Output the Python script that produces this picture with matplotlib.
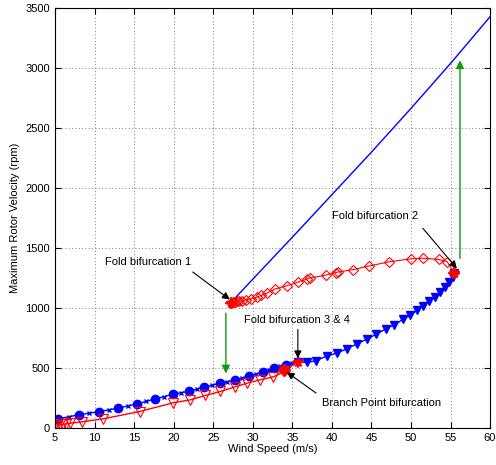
import matplotlib.pyplot as plt
import numpy as np

plt.rcParams['font.family'] = ['Liberation Sans', 'DejaVu Sans']
plt.rcParams['font.size'] = 8

# Upper stable branch (blue line, no markers)
hi_ws = [27.3, 30.0, 35.0, 40.0, 45.0, 50.0, 55.0, 60.0]
hi_rpm = [1050, 1240, 1590, 1945, 2300, 2665, 3040, 3430]

# Lower stable branch: filled circles with crosses in between
lo_ws = [5.4, 6.7, 8.0, 9.3, 10.6, 11.8, 13.0, 14.2, 15.4, 16.5, 17.6, 18.8,
         19.9, 20.9, 21.9, 22.9, 23.8, 24.8, 25.8, 26.8, 27.7, 28.6, 29.5,
         30.4, 31.3, 32.0, 32.7, 33.5, 34.2, 35.0, 35.7]
lo_rpm = [75, 92, 108, 122, 135, 150, 165, 182, 200, 220, 240, 260,
          280, 292, 305, 322, 340, 355, 370, 385, 400, 415, 430,
          448, 465, 482, 500, 512, 525, 538, 550]

# Unstable branch from fold 3/4 up to fold 2 (blue down triangles)
tri_ws = [35.7, 36.9, 38.0, 39.4, 40.7, 41.9, 43.2, 44.4, 45.6, 46.8, 47.9,
          49.0, 49.9, 50.8, 51.5, 52.3, 53.0, 53.7, 54.3, 54.8, 55.3, 55.45]
tri_rpm = [550, 545, 560, 600, 625, 660, 700, 740, 780, 825, 860,
           905, 940, 980, 1015, 1055, 1090, 1130, 1175, 1215, 1260, 1290]

# Unstable branch between fold 2 and fold 1 (red diamonds)
dia_ws = [55.45, 54.6, 53.5, 51.5, 50.0, 47.2, 44.7, 42.7, 40.8, 40.5, 39.3,
          37.2, 36.8, 35.7, 34.3, 32.8, 31.8, 31.1, 30.5, 29.8, 29.2, 28.7,
          28.3, 28.0, 27.7, 27.5, 27.3]
dia_rpm = [1290, 1385, 1405, 1415, 1410, 1385, 1350, 1320, 1300, 1295, 1275,
           1250, 1240, 1215, 1185, 1158, 1125, 1105, 1090, 1078, 1068, 1062,
           1058, 1055, 1052, 1050, 1045]

# Lower unstable branch up to the branch point (red open triangles)
red_ws = [5.0, 5.3, 5.6, 6.0, 6.4, 6.9, 8.4, 11.1, 15.7, 19.9, 22.1, 24.0,
          25.9, 27.8, 29.3, 30.9, 32.6, 34.0]
red_rpm = [20, 25, 28, 30, 33, 38, 50, 75, 136, 208, 233, 270,
           303, 342, 373, 400, 425, 470]

# Bifurcation points
fold_ws = [27.3, 55.45, 35.7]
fold_rpm = [1045, 1290, 550]
bp_ws, bp_rpm = 34.0, 480

fig = plt.figure(figsize=(4.96, 4.65), dpi=100)
ax = fig.add_axes([0.111, 0.080, 0.877, 0.902])

ax.plot(hi_ws, hi_rpm, color='b', lw=1)
ax.plot(lo_ws, lo_rpm, color='b', lw=1, marker='x', ms=3.5, mew=1,
        markevery=slice(1, None, 2))
ax.plot(lo_ws[:-2:2], lo_rpm[:-2:2], ls='none', marker='o', ms=6,
        color='b')
ax.plot(tri_ws, tri_rpm, color='b', lw=1, marker='v', ms=6)
ax.plot(dia_ws, dia_rpm, color='r', lw=0.8, marker='D', ms=5.5, mfc='none',
        mew=0.8)
ax.plot(red_ws, red_rpm, color='r', lw=1, marker='v', ms=6.5, mfc='none',
        mew=0.8)
ax.plot([bp_ws, fold_ws[2]], [bp_rpm, fold_rpm[2]], color='r', lw=1)
ax.plot(fold_ws, fold_rpm, ls='none', marker='*', ms=8, color='r')
ax.plot(fold_ws, fold_rpm, ls='none', marker='+', ms=8, mew=1.2, color='r')
ax.plot([bp_ws], [bp_rpm], ls='none', marker='D', ms=6, color='r')

# Jumps between branches
green = '#119911'
ax.annotate('', xy=(26.6, 430), xytext=(26.6, 980),
            arrowprops=dict(arrowstyle='-|>', color=green, lw=1,
                            mutation_scale=12))
ax.annotate('', xy=(56.2, 3090), xytext=(56.2, 1390),
            arrowprops=dict(arrowstyle='-|>', color=green, lw=1,
                            mutation_scale=12))

arrow = dict(arrowstyle='-|>', color='k', lw=0.8, mutation_scale=11,
             shrinkA=0, shrinkB=0)
ax.text(16.8, 1380, 'Fold bifurcation 1', ha='center', va='center')
ax.annotate('', xy=(27.1, 1070), xytext=(22.4, 1300), arrowprops=arrow)
ax.text(45.5, 1765, 'Fold bifurcation 2', ha='center', va='center')
ax.annotate('', xy=(55.8, 1330), xytext=(51.5, 1665), arrowprops=arrow)
ax.text(35.6, 900, 'Fold bifurcation 3 & 4', ha='center', va='center')
ax.annotate('', xy=(35.7, 580), xytext=(35.7, 820), arrowprops=arrow)
ax.text(46.3, 210, 'Branch Point bifurcation', ha='center', va='center')
ax.annotate('', xy=(34.3, 465), xytext=(38.0, 290), arrowprops=arrow)

ax.set_xlim(5, 60)
ax.set_ylim(0, 3500)
ax.set_xticks(np.arange(5, 61, 5))
ax.set_yticks(np.arange(0, 3501, 500))
ax.grid(True, ls=(0, (1, 3)), color='0.35', lw=0.6)
ax.tick_params(direction='in', top=True, right=True, length=4, labelsize=8)
ax.set_xlabel('Wind Speed (m/s)', labelpad=1)
ax.set_ylabel('Maximum Rotor Velocity (rpm)', labelpad=4)

fig.savefig('out.png', dpi=100)
